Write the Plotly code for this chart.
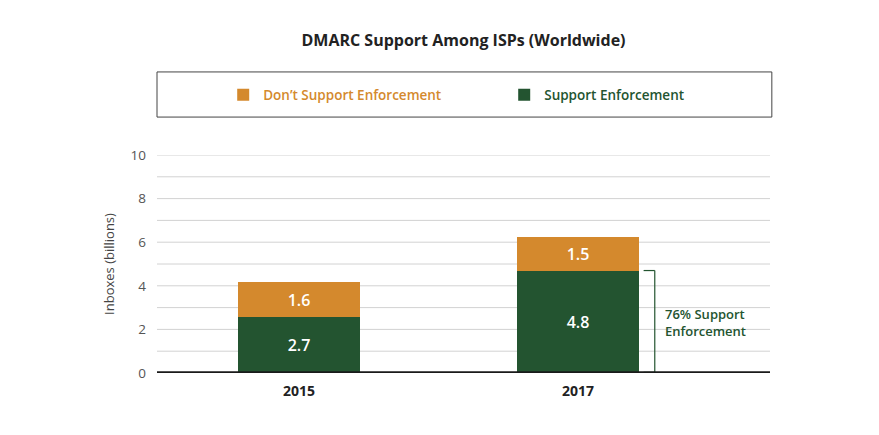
import plotly.graph_objects as go

years = ["2015", "2017"]
support = [2.55, 4.7]
dont_support = [1.62, 1.55]
support_labels = ["2.7", "4.8"]
dont_labels = ["1.6", "1.5"]
y_ticks = [0, 2, 4, 6, 8, 10]

ORANGE = "#D4892D"
GREEN = "#235430"
FONT = "Open Sans"

x_pos = [0, 1]

fig = go.Figure()
fig.add_trace(go.Bar(
    x=x_pos, y=support, name=f"<span style='color:{GREEN}'>Support Enforcement</span>",
    marker=dict(color=GREEN, line=dict(width=0)), width=0.437,
    text=support_labels, texttemplate="%{text}", textposition="inside",
    insidetextanchor="middle", textangle=0,
    textfont=dict(color="white", size=16, family=FONT, weight=600),
    hoverinfo="skip",
))
fig.add_trace(go.Bar(
    x=x_pos, y=dont_support, name=f"<span style='color:{ORANGE}'>Don’t Support Enforcement</span>",
    marker=dict(color=ORANGE, line=dict(width=0)), width=0.437,
    text=dont_labels, texttemplate="%{text}", textposition="inside",
    insidetextanchor="middle", textangle=0,
    textfont=dict(color="white", size=16, family=FONT, weight=600),
    hoverinfo="skip",
))

# bracket for 2017 support share
bx = 1.275
btick = 0.04
fig.add_shape(type="line", x0=bx, x1=bx, y0=0, y1=support[1], xref="x", yref="y",
              line=dict(color=GREEN, width=1.2))
fig.add_shape(type="line", x0=bx - btick, x1=bx, y0=support[1], y1=support[1], xref="x", yref="y",
              line=dict(color=GREEN, width=1.2))
fig.add_shape(type="line", x0=bx - btick, x1=bx, y0=0.03, y1=0.03, xref="x", yref="y",
              line=dict(color=GREEN, width=1.2))
fig.add_annotation(x=bx + 0.03, y=support[1] / 2 - 0.05, xref="x", yref="y",
                   text="76% Support<br>Enforcement", showarrow=False,
                   xanchor="left", yanchor="middle", align="left",
                   font=dict(color=GREEN, size=13, family=FONT, weight=600))

# legend box
fig.add_shape(type="rect", xref="paper", yref="paper", x0=0, x1=1.003, y0=1.174, y1=1.381,
              line=dict(color="#444", width=1), fillcolor="rgba(0,0,0,0)")

fig.update_layout(
    width=879, height=435,
    margin=dict(l=149, r=117, t=147, b=70),
    paper_bgcolor="white", plot_bgcolor="white",
    barmode="stack",
    font=dict(family=FONT, color="#444"),
    title=dict(text="DMARC Support Among ISPs (Worldwide)", x=0.5, xref="paper",
               y=0.926, yref="container", yanchor="middle",
               font=dict(size=16, color="#222", family=FONT, weight=700)),
    showlegend=True,
    legend=dict(orientation="h", traceorder="reversed", x=0.108, y=1.275,
                xanchor="left", yanchor="middle", bgcolor="rgba(0,0,0,0)",
                entrywidth=236, entrywidthmode="pixels",
                font=dict(size=13.5, family=FONT, weight=600)),
    xaxis=dict(range=[-0.509, 1.688], tickvals=x_pos, ticktext=years,
               showgrid=False, zeroline=False, showline=False, ticks="",
               ticklabelstandoff=8,
               tickfont=dict(size=14, color="#222", family=FONT, weight=700), fixedrange=True),
    yaxis=dict(range=[0, 10], tickvals=y_ticks, showgrid=False, zeroline=False,
               showline=False, ticks="", ticklabelstandoff=10,
               tickfont=dict(size=13.5, color="#555", family=FONT),
               title=dict(text="Inboxes (billions)", font=dict(size=13, color="#444", family=FONT),
                          standoff=12),
               fixedrange=True),
)

# gridlines every 1 unit, drawn under the bars
for g in range(1, 11):
    fig.add_shape(type="line", xref="paper", yref="y", x0=0, x1=1, y0=g, y1=g,
                  line=dict(color="#d2d2d2", width=1), layer="below")
# thick baseline
fig.add_shape(type="line", xref="paper", yref="y", x0=0, x1=1, y0=0, y1=0,
              line=dict(color="#1a1a1a", width=3.5), layer="above")

fig.write_html("out.html")
